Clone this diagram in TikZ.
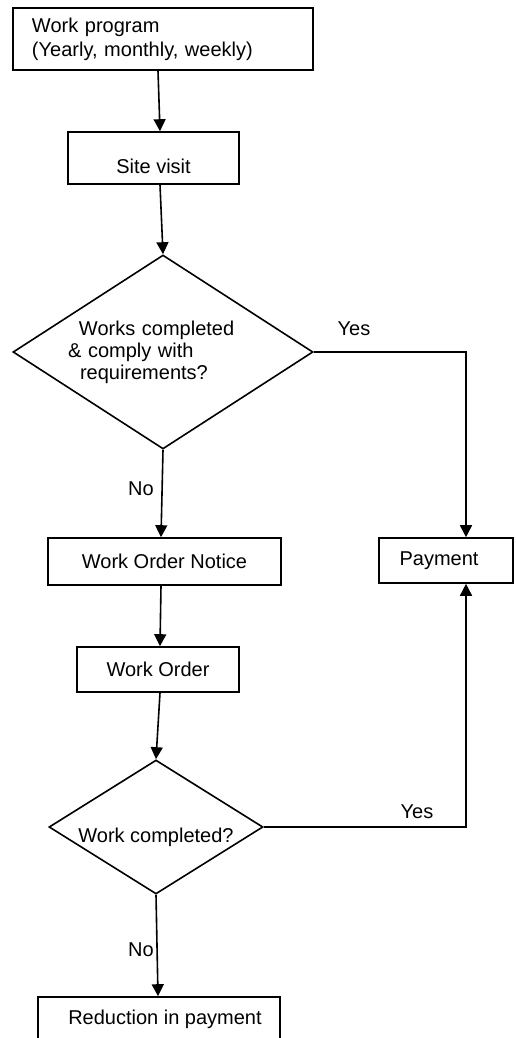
\documentclass[tikz,border=0pt]{standalone}
\usepackage{fontspec}
\setmainfont{Liberation Sans}
\usetikzlibrary{shapes.geometric,arrows.meta}
\begin{document}
\begin{tikzpicture}[x=0.5pt,y=-0.5pt,
  every node/.style={font=\fontsize{10}{12}\selectfont},
  box/.style={draw,line width=0.8pt,rectangle,inner sep=0pt},
  dia/.style={draw,line width=0.8pt,diamond,inner sep=0pt},
  conn/.style={line width=0.8pt},
  arr/.style={line width=0.8pt,-{Triangle[length=6pt,width=6pt]}},
  lbl/.style={inner sep=0pt}]
\clip (0,0) rectangle (515,1038);
\fill[white] (0,0) rectangle (515,1038);

\node[box,minimum width=150pt,minimum height=31pt,text width=131pt,inner xsep=9.5pt,align=left] (prog) at (163,39)
  {Work program\\(Yearly, monthly, weekly)};
\node[box,minimum width=85.5pt,minimum height=26pt,text height=15pt,text depth=0pt] (site) at (153.5,158) {Site visit};
\node[dia,minimum width=150pt,minimum height=97pt,aspect=1.55,text width=95pt,align=left,
  font=\fontsize{10}{11}\selectfont] (d1) at (163,352)
  {\hspace*{5.5pt}Works completed\\\& comply with\\\hspace*{6pt}requirements?};
\node[box,minimum width=116.5pt,minimum height=23.5pt] (won) at (164.5,561.5) {Work Order Notice};
\node[box,minimum width=67pt,minimum height=22.5pt] (pay) at (446,560.5) {\hspace*{-7pt}Payment};
\node[box,minimum width=81pt,minimum height=22.5pt] (wo) at (158,669.5) {Work Order};
\node[dia,minimum width=107pt,minimum height=67pt,aspect=1.6,text height=15pt,text depth=0pt] (d2) at (156,827) {Work completed?};
\node[box,minimum width=121pt,minimum height=22pt] (red) at (159,1019) {\hspace*{6pt}Reduction in payment};

\node[lbl] (yes1) at (354,329) {Yes};
\node[lbl] (no1) at (141,489) {No};
\node[lbl] (yes2) at (417,812) {Yes};
\node[lbl] (no2) at (141,950) {No};

\draw[arr] ([xshift=-2.5pt]prog.south) -- ([xshift=3.25pt]site.north);
\draw[arr] ([xshift=3.25pt]site.south) -- (d1.north);
\draw[arr] (d1.south) -- ([xshift=-1.75pt]won.north);
\draw[arr] (d1.east) -| ([xshift=10pt]pay.north);
\draw[arr] ([xshift=-1.75pt]won.south) -- ([xshift=1pt]wo.north);
\draw[arr] ([xshift=1pt]wo.south) -- (d2.north);
\draw[arr] (d2.east) -| ([xshift=10pt]pay.south);
\draw[arr] (d2.south) -- ([xshift=-0.5pt]red.north);
\end{tikzpicture}
\end{document}
